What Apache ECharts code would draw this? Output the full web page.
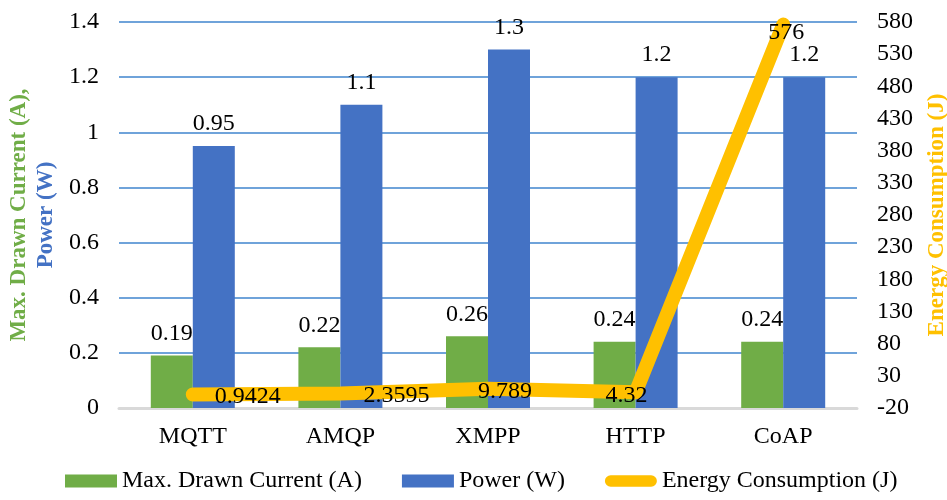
<!DOCTYPE html>
<html>
<head>
<meta charset="utf-8">
<script src="https://cdn.jsdelivr.net/npm/echarts@6/dist/echarts.min.js"></script>
<style>
  html, body { margin: 0; padding: 0; background: #fff; }
  #chart { width: 947px; height: 500px; }
</style>
</head>
<body>
<div id="chart"></div>
<script>
// Protocol comparison: current and power (bars, left axis), energy (line, right axis)
const protocols = ['MQTT', 'AMQP', 'XMPP', 'HTTP', 'CoAP'];
const maxCurrent = [0.19, 0.22, 0.26, 0.24, 0.24];
const power = [0.95, 1.1, 1.3, 1.2, 1.2];
const energy = [0.9424, 2.3595, 9.789, 4.32, 576];
const energyTicks = [-20, 30, 80, 130, 180, 230, 280, 330, 380, 430, 480, 530, 580];

// Hand-placed label nudges for the energy line, in pixels
const energyLabelNudge = [[55, 2], [56, 2], [17, 3], [-9, 3], [3, 8]];

const FONT = '"Liberation Serif", "Times New Roman", serif';
const GREEN = '#70AD47', BLUE = '#4472C4', GOLD = '#FFC000';
const FS = 24;

const chart = echarts.init(document.getElementById('chart'), null, { renderer: 'canvas' });

chart.setOption({
  animation: false,
  textStyle: { fontFamily: FONT, color: '#000' },
  grid: { left: 119, right: 90, top: 22, bottom: 92, containLabel: false, outerBoundsMode: 'none' },
  legend: {
    left: 60, bottom: 2,
    itemWidth: 52, itemHeight: 13, itemGap: 40,
    textStyle: { fontFamily: FONT, fontSize: FS, color: '#000' },
    data: [
      { name: 'Max. Drawn Current (A)', icon: 'rect' },
      { name: 'Power (W)', icon: 'rect' },
      { name: 'Energy Consumption (J)',
        icon: 'path://M6,0 L48,0 A6,6 0 0 1 48,12 L6,12 A6,6 0 0 1 6,0 Z',
        itemStyle: { color: GOLD, opacity: 1 } }
    ]
  },
  xAxis: {
    type: 'category',
    data: protocols,
    axisTick: { show: false },
    axisLine: { lineStyle: { color: '#D9D9D9', width: 3 } },
    axisLabel: { fontFamily: FONT, fontSize: FS, color: '#000', margin: 17 }
  },
  yAxis: [
    {
      type: 'value', min: 0, max: 1.4, interval: 0.2,
      axisLine: { show: false }, axisTick: { show: false },
      splitLine: { lineStyle: { color: '#6FA3DA', width: 2 } },
      axisLabel: { fontFamily: FONT, fontSize: FS, color: '#000', margin: 20 },
      name: '{g|Max. Drawn Current (A),}\n{p|Power (W)}',
      nameLocation: 'middle', nameRotate: 90, nameGap: 59, nameMoveOverlap: false,
      nameTextStyle: {
        fontFamily: FONT, fontWeight: 'bold', fontSize: 23, lineHeight: 27,
        rich: {
          g: { color: GREEN, fontFamily: FONT, fontWeight: 'bold', fontSize: 23, lineHeight: 27 },
          p: { color: BLUE, fontFamily: FONT, fontWeight: 'bold', fontSize: 23, lineHeight: 27 }
        }
      }
    },
    {
      type: 'value', min: -20, max: 580,
      axisLine: { show: false }, axisTick: { show: false },
      splitLine: { show: false },
      axisLabel: { fontFamily: FONT, fontSize: FS, color: '#000', margin: 20, customValues: energyTicks },
      name: 'Energy Consumption (J)',
      nameLocation: 'middle', nameRotate: 90, nameGap: 69, nameMoveOverlap: false,
      nameTextStyle: { fontFamily: FONT, fontWeight: 'bold', fontSize: 23, color: GOLD }
    }
  ],
  series: [
    {
      name: 'Max. Drawn Current (A)', type: 'bar', yAxisIndex: 0,
      data: maxCurrent, barWidth: 42, barGap: '0%',
      itemStyle: { color: GREEN },
      label: { show: true, position: 'top', distance: 10, fontFamily: FONT, fontSize: FS, color: '#000' }
    },
    {
      name: 'Power (W)', type: 'bar', yAxisIndex: 0,
      data: power, barWidth: 42,
      itemStyle: { color: BLUE },
      label: { show: true, position: 'top', distance: 10, fontFamily: FONT, fontSize: FS, color: '#000' }
    },
    {
      name: 'Energy Consumption (J)', type: 'line', yAxisIndex: 1, z: 5,
      data: energy.map((v, i) => ({ value: v, label: { offset: energyLabelNudge[i] } })),
      symbol: 'circle', symbolSize: 2, showSymbol: true,
      lineStyle: { color: GOLD, width: 14, cap: 'round', join: 'round' },
      itemStyle: { color: GOLD },
      label: { show: true, position: 'inside', fontFamily: FONT, fontSize: FS, color: '#000' }
    }
  ]
});
</script>
</body>
</html>
